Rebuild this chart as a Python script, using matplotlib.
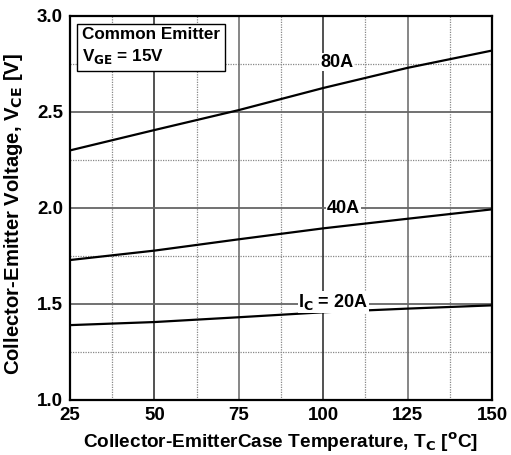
import matplotlib
matplotlib.use("Agg")
import matplotlib.pyplot as plt
import numpy as np

plt.rcParams['font.family'] = ['Liberation Sans', 'DejaVu Sans']
plt.rcParams['font.weight'] = 'bold'
plt.rcParams['mathtext.default'] = 'bf'

temps = [25, 50, 75, 100, 125, 150]
vce_80a = [2.30, 2.406, 2.51, 2.625, 2.73, 2.82]
vce_40a = [1.729, 1.778, 1.837, 1.894, 1.944, 1.993]
vce_20a = [1.39, 1.406, 1.431, 1.457, 1.476, 1.493]
xticks = [25, 50, 75, 100, 125, 150]
yticks = [1.0, 1.5, 2.0, 2.5, 3.0]

fig = plt.figure(figsize=(5.11, 4.55), dpi=100)
ax = fig.add_axes([70/511, 55/455, 422/511, 384/455])

# grid
for x in np.arange(37.5, 150, 25):
    ax.axvline(x, color='#888888', lw=0.9, ls=(0, (1, 1)), zorder=1)
for y in np.arange(1.25, 3.0, 0.5):
    ax.axhline(y, color='#888888', lw=0.9, ls=(0, (1, 1)), zorder=1)
for x in [50, 75, 100, 125]:
    ax.axvline(x, color='#222222' if x in (50, 100) else '#666666', lw=1.1, zorder=1)
for y in [1.5, 2.0, 2.5]:
    ax.axhline(y, color='#666666', lw=1.3, zorder=1)

for v in (vce_80a, vce_40a, vce_20a):
    ax.plot(temps, v, color='black', lw=1.6, zorder=3)

bb = dict(facecolor='white', edgecolor='none', pad=0.5)
ax.text(104, 2.76, '80A', ha='center', va='center', fontsize=13, fontweight='bold', bbox=bb, zorder=4)
ax.text(106, 1.995, '40A', ha='center', va='center', fontsize=13, fontweight='bold', bbox=bb, zorder=4)
ax.text(103, 1.51, r'I$_\mathbf{C}$ = 20A', ha='center', va='center', fontsize=13, fontweight='bold', bbox=bb, zorder=4)

ax.text(0.028, 0.972, 'Common Emitter\n' + r'V$_\mathbf{GE}$ = 15V', transform=ax.transAxes,
        ha='left', va='top', fontsize=12.3, fontweight='bold', linespacing=1.35,
        bbox=dict(facecolor='white', edgecolor='black', lw=1.0, boxstyle='square,pad=0.3'), zorder=5)

ax.set_xlim(25, 150)
ax.set_ylim(1.0, 3.0)
ax.set_xticks(xticks)
ax.set_yticks(yticks)
ax.set_yticklabels([f'{y:.1f}' for y in yticks])
ax.tick_params(length=0, labelsize=13.5, pad=5)
for lab in ax.get_xticklabels() + ax.get_yticklabels():
    lab.set_fontweight('bold')
for s in ax.spines.values():
    s.set_linewidth(1.6)

ax.set_xlabel(r'Collector-EmitterCase Temperature, T$_\mathbf{C}$ [$^\mathbf{o}$C]', fontsize=13.7, fontweight='bold')
ax.xaxis.set_label_coords(0.5, -0.109, transform=ax.transAxes)
ax.xaxis.label.set_va('center')
ax.set_ylabel(r'Collector-Emitter Voltage, V$_\mathbf{CE}$ [V]', fontsize=14.6, fontweight='bold')
ax.yaxis.set_label_coords(-56/422, 0.484, transform=ax.transAxes)
ax.yaxis.label.set_va('center')

fig.savefig('out.png', dpi=100)
